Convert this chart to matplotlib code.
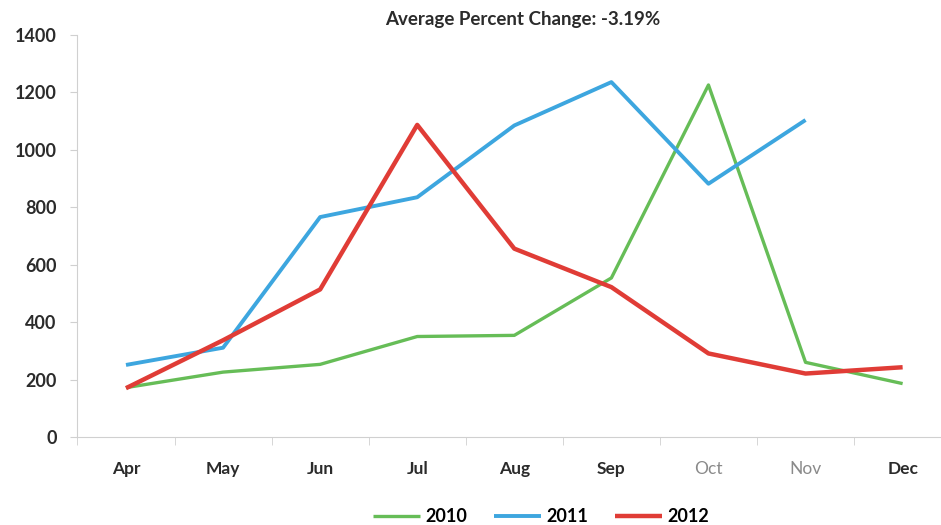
import matplotlib
matplotlib.use('Agg')
import matplotlib.pyplot as plt

# data
months = ['Apr', 'May', 'Jun', 'Jul', 'Aug', 'Sep', 'Oct', 'Nov', 'Dec']
sales_2010 = [172, 226, 253, 350, 354, 554, 1226, 260, 186]
sales_2011 = [251, 311, 766, 835, 1085, 1236, 882, 1104]
sales_2012 = [170, 337, 514, 1087, 656, 522, 291, 221, 243]
y_ticks = [0, 200, 400, 600, 800, 1000, 1200, 1400]
title = 'Average Percent Change: -3.19%'

plt.rcParams['font.family'] = ['Lato', 'DejaVu Sans']

fig = plt.figure(figsize=(9.41, 5.25), dpi=100)
# plot area runs a little past the right edge, as in the cropped original
ax = fig.add_axes([0.0823, 0.1676, 0.9285, 0.7657])

x = list(range(len(months)))
ax.plot(x, sales_2010, color='#66bd57', lw=2.4, label='2010', solid_capstyle='butt')
ax.plot(x[:len(sales_2011)], sales_2011, color='#3da6df', lw=2.8, label='2011', solid_capstyle='butt')
ax.plot(x, sales_2012, color='#e03c36', lw=3.2, label='2012', solid_capstyle='butt')

ax.set_xlim(-0.5, len(months) - 0.5)
ax.set_ylim(0, 1400)
ax.set_yticks(y_ticks)
ax.set_yticklabels([str(v) for v in y_ticks], fontsize=13, color='#2b2b2b', fontweight='bold')

# category labels centred, tick marks between categories
ax.set_xticks(x)
ax.set_xticklabels(months, fontsize=12.5, color='#2b2b2b', fontweight='bold')
for lbl in ax.get_xticklabels()[6:8]:
    lbl.set_color('#8a8a8a')
    lbl.set_fontweight('normal')
ax.set_xticks([i - 0.5 for i in range(len(months) + 1)], minor=True)
ax.tick_params(axis='x', which='major', length=0, pad=17)
ax.tick_params(axis='x', which='minor', length=6, color='#d0d0d0', direction='out')
ax.tick_params(axis='y', length=5, color='#d0d0d0', pad=10)

for side in ['top', 'right']:
    ax.spines[side].set_visible(False)
ax.spines['left'].set_color('#d0d0d0')
ax.spines['bottom'].set_color('#d0d0d0')

fig.text(0.555, 0.962, title, ha='center', va='center', fontsize=13.5,
         color='#2b2b2b', fontweight='bold')

fig.legend(loc='center', bbox_to_anchor=(0.575, 0.016), ncol=3, frameon=False,
           handlelength=2.6, handletextpad=0.3, columnspacing=1.5,
           prop={'weight': 'bold', 'size': 13})

fig.savefig('out.png', dpi=100)
